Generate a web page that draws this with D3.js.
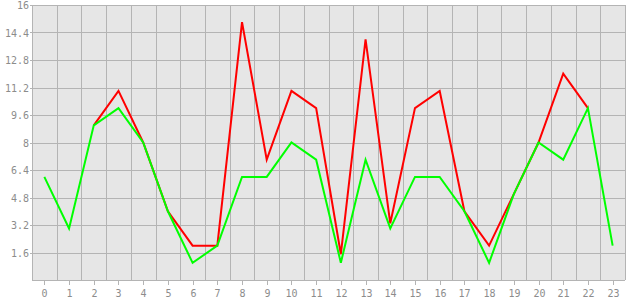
<!DOCTYPE html>
<html>
<head>
<meta charset="utf-8">
<script src="https://d3js.org/d3.v7.min.js"></script>
<style>
  body { margin: 0; background: #fff; }
  svg { display: block; }
  text { font-family: "DejaVu Sans Mono", monospace; font-size: 10px; fill: #8c8c8c; }
</style>
</head>
<body>
<div id="chart"></div>
<script>
// categories along the bottom
const hours = d3.range(0, 24);
// red series (missing at start and end)
const redValues = [null, null, 9, 11, 8, 4, 2, 2, 15, 7, 11, 10, 1.5, 14, 3.3, 10, 11, 4, 2, 5, 8, 12, 10, null];
// green series
const greenValues = [6, 3, 9, 10, 8, 4, 1, 2, 6, 6, 8, 7, 1, 7, 3, 6, 6, 4, 1, 5, 8, 7, 10, 2];
// y tick labels
const yTicks = [1.6, 3.2, 4.8, 6.4, 8, 9.6, 11.2, 12.8, 14.4, 16];

const width = 630, height = 300;
const margin = {top: 5, right: 5, bottom: 20, left: 32};

const svg = d3.select('#chart')
    .append('svg')
    .attr('width', width)
    .attr('height', height);

const x = d3.scaleBand()
    .domain(hours)
    .range([margin.left, width - margin.right]);

const y = d3.scaleLinear()
    .domain([0, 16])
    .range([height - margin.bottom, margin.top]);

const gridColor = '#b4b4b4';

// plot background
svg.append('rect')
    .attr('x', margin.left)
    .attr('y', margin.top)
    .attr('width', width - margin.left - margin.right)
    .attr('height', height - margin.top - margin.bottom)
    .attr('fill', '#e6e6e6');

// horizontal grid
svg.append('g')
    .selectAll('line')
    .data(yTicks)
    .join('line')
    .attr('x1', margin.left - 2)
    .attr('x2', width - margin.right)
    .attr('y1', d => Math.round(y(d)) + 0.5)
    .attr('y2', d => Math.round(y(d)) + 0.5)
    .attr('stroke', gridColor);

// vertical grid at band edges
svg.append('g')
    .selectAll('line')
    .data(hours.slice(1).concat(['end']))
    .join('line')
    .attr('x1', d => Math.round(d === 'end' ? x.range()[1] : x(d)) + 0.5)
    .attr('x2', d => Math.round(d === 'end' ? x.range()[1] : x(d)) + 0.5)
    .attr('y1', margin.top)
    .attr('y2', height - margin.bottom)
    .attr('stroke', gridColor);

// axis lines
svg.append('line')
    .attr('x1', margin.left + 0.5).attr('x2', margin.left + 0.5)
    .attr('y1', margin.top).attr('y2', height - margin.bottom)
    .attr('stroke', gridColor);
svg.append('line')
    .attr('x1', margin.left).attr('x2', width - margin.right)
    .attr('y1', height - margin.bottom + 0.5).attr('y2', height - margin.bottom + 0.5)
    .attr('stroke', gridColor);

// x ticks and labels
const xTick = svg.append('g')
    .selectAll('g')
    .data(hours)
    .join('g')
    .attr('transform', d => `translate(${Math.round(x(d) + x.bandwidth() / 2) + 0.5},0)`);
xTick.append('line')
    .attr('y1', height - margin.bottom)
    .attr('y2', height - margin.bottom + 5)
    .attr('stroke', gridColor);
xTick.append('text')
    .attr('y', height - 3)
    .attr('text-anchor', 'middle')
    .text(d => d);

// y labels
svg.append('g')
    .selectAll('text')
    .data(yTicks)
    .join('text')
    .attr('x', margin.left - 3)
    .attr('y', d => y(d) + 4)
    .attr('text-anchor', 'end')
    .text(d => d);

const line = d3.line()
    .defined(d => d != null)
    .x((d, i) => x(hours[i]) + x.bandwidth() / 2)
    .y(d => y(d));

svg.append('path')
    .datum(redValues)
    .attr('d', line)
    .attr('fill', 'none')
    .attr('stroke', '#ff0000')
    .attr('stroke-width', 2);

svg.append('path')
    .datum(greenValues)
    .attr('d', line)
    .attr('fill', 'none')
    .attr('stroke', '#00ff00')
    .attr('stroke-width', 2);
</script>
</body>
</html>
